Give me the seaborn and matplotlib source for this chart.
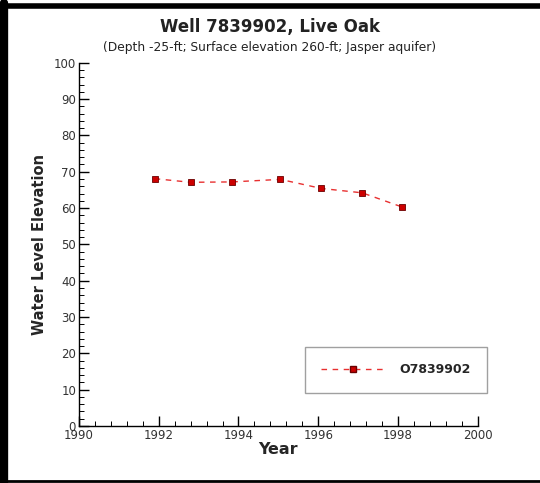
import matplotlib
matplotlib.use("Agg")
import matplotlib.pyplot as plt
import numpy as np
import pandas as pd
import seaborn as sns
from matplotlib.ticker import MultipleLocator
from matplotlib.lines import Line2D

# Data
years = [1991.9, 1992.8, 1993.83, 1995.05, 1996.08, 1997.1, 1998.1]
levels = [68.1, 67.1, 67.2, 67.9, 65.4, 64.2, 60.3]
well_id = "O7839902"

df = pd.DataFrame({"Year": years, "Level": levels})

sns.set_style("white")
plt.rcParams['font.family'] = ['DejaVu Sans']

fig = plt.figure(figsize=(5.4, 4.83), dpi=100)
ax = fig.add_axes([0.146, 0.118, 0.739, 0.752])

sns.lineplot(data=df, x="Year", y="Level", ax=ax, color="#e83030",
             linestyle=(0, (4, 4)), linewidth=1.0, marker="s", markersize=5,
             markerfacecolor="#cc0000", markeredgecolor="#6a0000",
             markeredgewidth=0.6)

ax.set_xlim(1990, 2000)
ax.set_ylim(0, 100)
ax.xaxis.set_major_locator(MultipleLocator(2))
ax.xaxis.set_minor_locator(MultipleLocator(0.4))
ax.yaxis.set_major_locator(MultipleLocator(10))
ax.yaxis.set_minor_locator(MultipleLocator(2))
ax.tick_params(which="major", direction="in", length=7, width=1, labelsize=8.5,
               color="black", labelcolor="#333333", pad=2, left=True, bottom=True)
ax.tick_params(which="minor", direction="in", length=3.5, width=0.7,
               color="black", left=True, bottom=True)
for s in ["top", "right"]:
    ax.spines[s].set_visible(False)
for s in ["left", "bottom"]:
    ax.spines[s].set_color("black")
    ax.spines[s].set_linewidth(1)

ax.set_xlabel("Year", fontsize=11.5, fontweight="bold", labelpad=0)
ax.set_ylabel("Water Level Elevation", fontsize=10.5, fontweight="bold", labelpad=5)

fig.text(0.5, 0.944, "Well 7839902, Live Oak", ha="center", va="center",
         fontsize=12, fontweight="bold", color="#222222")
fig.text(0.5, 0.902, "(Depth -25-ft; Surface elevation 260-ft; Jasper aquifer)",
         ha="center", va="center", fontsize=8.8, color="#222222")

handle = Line2D([], [], color="#e83030", linestyle=(0, (4, 4)), linewidth=1.0,
                marker="s", markersize=5, markerfacecolor="#cc0000",
                markeredgecolor="#6a0000")
leg = ax.legend([handle], [well_id], loc="center",
                bbox_to_anchor=(0.733, 0.234), bbox_transform=fig.transFigure,
                frameon=True, fancybox=False, edgecolor="#888888",
                handlelength=5, borderpad=1.3, handletextpad=1.2,
                borderaxespad=0, prop={"weight": "bold", "size": 9})
leg.get_frame().set_linewidth(1)

# Black frame around the picture
fig.add_artist(Line2D([0.007, 0.007], [0, 0.993], color="black", linewidth=6,
                      transform=fig.transFigure))
fig.add_artist(Line2D([0, 1], [0.988, 0.988], color="black", linewidth=4,
                      transform=fig.transFigure))
fig.add_artist(Line2D([0, 1], [0.004, 0.004], color="black", linewidth=2,
                      transform=fig.transFigure))

fig.savefig("out.png", dpi=100)
